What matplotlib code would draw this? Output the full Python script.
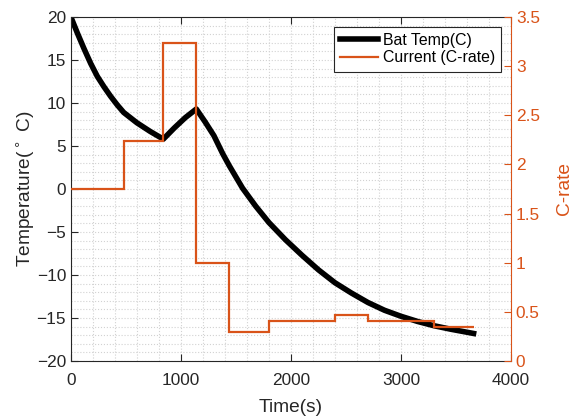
import matplotlib
matplotlib.use("Agg")
import matplotlib.pyplot as plt
from matplotlib.ticker import MultipleLocator
from matplotlib.lines import Line2D

plt.rcParams['font.family'] = ['Liberation Sans', 'DejaVu Sans']

# temperature trace
temp_t = [0, 60, 120, 180, 240, 300, 360, 420, 480, 600, 720, 840, 940, 1040, 1140,
          1220, 1300, 1380, 1440, 1560, 1680, 1800, 1950, 2100, 2250, 2400, 2550,
          2700, 2850, 3000, 3150, 3300, 3450, 3660]
temp_c = [20, 18.1, 16.3, 14.6, 13.1, 11.9, 10.8, 9.8, 8.9, 7.7, 6.7, 5.8, 7.1, 8.3, 9.3,
          7.8, 6.2, 4.1, 2.7, 0.1, -2.0, -3.9, -5.9, -7.7, -9.4, -10.9, -12.1,
          -13.2, -14.1, -14.8, -15.4, -15.9, -16.3, -16.8]

# current profile: step edges and C-rate held on each step
step_t = [0, 480, 840, 1140, 1440, 1800, 2400, 2700, 3300, 3660]
step_c = [1.75, 2.24, 3.24, 1.0, 0.3, 0.41, 0.47, 0.41, 0.35]

orange = '#D95319'
dark = '#262626'

fig = plt.figure(figsize=(5.81, 4.18), dpi=100)
ax1 = fig.add_axes([0.122, 0.1364, 0.7575, 0.8229])
ax2 = ax1.twinx()

ax1.plot(temp_t, temp_c, color='black', lw=4.0, label='Bat Temp(C)')
ax2.stairs(step_c, step_t, color=orange, lw=1.6, baseline=None)

ax1.set_xlim(0, 4000)
ax1.set_ylim(-20, 20)
ax2.set_ylim(0, 3.5)
ax1.xaxis.set_major_locator(MultipleLocator(1000))
ax1.xaxis.set_minor_locator(MultipleLocator(200))
ax1.yaxis.set_major_locator(MultipleLocator(5))
ax1.yaxis.set_minor_locator(MultipleLocator(1))
ax2.yaxis.set_major_locator(MultipleLocator(0.5))
ax2.yaxis.set_major_formatter(plt.FuncFormatter(lambda v, p: f'{v:g}'))

ax1.grid(True, which='both', linestyle=':', color='#d2d2d2', lw=0.8)
ax1.set_axisbelow(True)

ax1.tick_params(axis='both', which='major', direction='in', length=5, labelsize=12.4,
                colors=dark, top=True, width=0.8)
ax1.tick_params(axis='x', which='major', pad=9)
ax1.tick_params(axis='both', which='minor', length=0)
ax1.tick_params(axis='y', right=False)
ax2.tick_params(axis='y', direction='in', length=5, labelsize=12.4, colors=orange, width=0.8)

for s in ['left', 'top', 'bottom']:
    ax1.spines[s].set_color(dark)
    ax1.spines[s].set_linewidth(0.8)
ax2.spines['right'].set_color(orange)
ax2.spines['right'].set_linewidth(0.8)
for s in ['left', 'top', 'bottom']:
    ax2.spines[s].set_visible(False)
ax1.spines['right'].set_visible(False)

ax1.set_xlabel('Time(s)', fontsize=13.75, color=dark, labelpad=7.5)
ax1.set_ylabel('Temperature($^\\circ$ C)', fontsize=13.75, color=dark, labelpad=0.5)
ax2.set_ylabel('C-rate', fontsize=13.75, color=orange, labelpad=11.5)

h1, l1 = ax1.get_legend_handles_labels()
h2 = [Line2D([], [], color=orange, lw=1.6)]
leg = ax2.legend(h1 + h2, l1 + ['Current (C-rate)'], loc='upper right', fontsize=11.4,
                 fancybox=False, framealpha=1, edgecolor=dark, handlelength=2.4,
                 handletextpad=0.3, borderaxespad=0.6, borderpad=0.4, labelspacing=0.15)
leg.get_frame().set_linewidth(0.8)

fig.savefig('out.png', dpi=100)
